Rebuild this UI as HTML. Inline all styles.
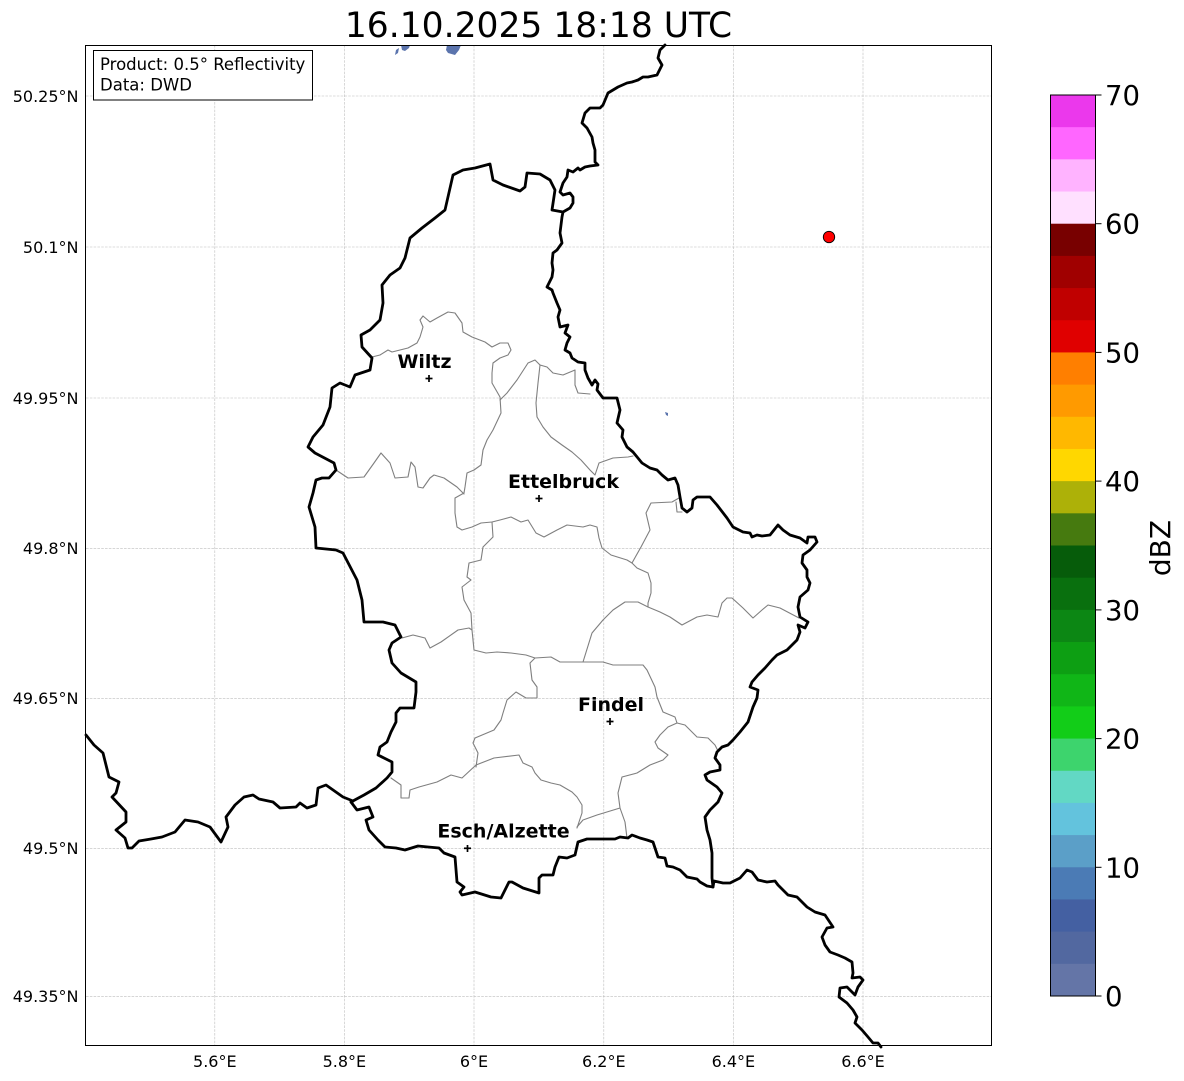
<!DOCTYPE html>
<html>
<head>
<meta charset="utf-8">
<style>
  html,body{margin:0;padding:0;background:#fff;}
  svg{display:block;}
  text{font-family:"DejaVu Sans","Liberation Sans",sans-serif;}
</style>
</head>
<body>
<svg width="1184" height="1081" viewBox="0 0 1184 1081" xmlns="http://www.w3.org/2000/svg">
  <rect x="0" y="0" width="1184" height="1081" fill="#fff"/>

  <!-- Title -->
  <text x="538.5" y="37" font-size="34.5" text-anchor="middle" fill="#000">16.10.2025 18:18 UTC</text>

  <!-- Gridlines -->
  <g stroke="#bdbdbd" stroke-width="0.6" stroke-dasharray="2.6,1.2" fill="none">
    <line x1="214.8" y1="45" x2="214.8" y2="1045"/>
    <line x1="344.4" y1="45" x2="344.4" y2="1045"/>
    <line x1="474" y1="45" x2="474" y2="1045"/>
    <line x1="603.8" y1="45" x2="603.8" y2="1045"/>
    <line x1="733.4" y1="45" x2="733.4" y2="1045"/>
    <line x1="863" y1="45" x2="863" y2="1045"/>
    <line x1="86" y1="96" x2="992" y2="96"/>
    <line x1="86" y1="247" x2="992" y2="247"/>
    <line x1="86" y1="398" x2="992" y2="398"/>
    <line x1="86" y1="548.3" x2="992" y2="548.3"/>
    <line x1="86" y1="698.3" x2="992" y2="698.3"/>
    <line x1="86" y1="848.3" x2="992" y2="848.3"/>
    <line x1="86" y1="996.3" x2="992" y2="996.3"/>
  </g>

  <!-- Radar echoes -->
  <g fill="#5b74ad">
    <polygon points="395,55 396,50 399,48 398,53"/>
    <polygon points="401,45 410,45 409,48 405,51 402,50"/>
    <polygon points="447,45 461,45 459,50 455,55 448,53 446,50"/>
    <polygon points="665,412 668,413 668,416 666,415"/>
  </g>

  <!-- District borders -->
  <g stroke="#7f7f7f" stroke-width="1.1" fill="none" stroke-linejoin="round" stroke-linecap="round">
    <polyline points="372,357 380,355 388,350 392,352 400,350 408,348 417,343 420,337 423,327 420,320 423,316 430,322 437,318 448,312 455,313 462,323 463,332 472,337 485,342 492,347 500,343 508,343 511,350 508,355 500,358 493,363 492,373 492,383 500,397 501,413 493,430 487,440 483,450 481,465 474,470 467,473 465,487 464,493 455,498 455,513 457,527 462,530 472,527 481,523 492,522 500,520 511,517 521,522 528,520 536,533 544,537 557,530 567,525 583,527 590,525 597,527 599,538 602,548 611,555 627,560 632,563 637,568 648,573 651,583 651,593 648,603 648,607"/>
    <polyline points="336,470 348,478 364,477 374,463 381,453 390,463 395,478 408,477 411,462 415,467 418,487 423,488 430,478 434,475 444,478 457,487 464,494"/>
    <polyline points="500,400 507,393 517,380 528,363 535,360 540,365 538,383 536,403 537,417 543,427 551,437 562,445 572,452 581,460 590,470 595,475 599,463 613,458 628,457 633,456"/>
    <polyline points="540,365 547,367 553,373 563,375 575,370 575,385 578,393 590,394"/>
    <polyline points="632,563 641,547 650,530 646,513 651,503 672,502 679,498"/>
    <polyline points="676,502 677,512 682,512"/>
    <polyline points="492,522 493,537 483,547 481,560 469,563 467,577 471,580 462,587 464,600 471,613 472,630 474,650 486,653 497,652 511,653 526,655 535,658 551,657 560,662 583,662 592,633 603,620 613,610 625,602 638,602 648,607 660,612 670,617 682,625 697,617 707,615 718,617 722,603 727,598 732,598 743,608 753,618 762,610 768,605 780,608 799,618"/>
    <polyline points="402,638 413,635 425,638 430,648 441,642 458,630 469,628 472,630"/>
    <polyline points="583,662 588,662 603,662 613,665 643,665 647,670 655,687 657,697 663,712 675,717 677,723 685,725 697,737 708,738 715,745 718,751"/>
    <polyline points="677,723 668,727 660,735 655,742 658,748 668,755 663,760 650,765 637,773 622,777 618,793 620,808 625,822 627,838"/>
    <polyline points="620,808 597,815 583,820 577,827"/>
    <polyline points="535,658 530,663 532,680 537,687 537,698 526,698 516,692 507,700 503,713 501,720 494,730 475,738 473,743 478,753 476,767"/>
    <polyline points="391,778 401,785 401,798 409,798 410,790 419,787 437,782 451,775 462,778 476,765 494,758 519,755 523,763 532,767 535,773 541,780 551,783 560,785 572,792 577,797 582,805 582,813 577,828"/>
  </g>

  <!-- National borders -->
  <g stroke="#000" stroke-width="2.8" fill="none" stroke-linejoin="round" stroke-linecap="round">
    <polyline points="665,45 660,50 658,58 662,65 657,75 648,77 643,77 638,80 632,82 627,83 618,87 613,90 608,93 603,105 600,108 590,108 585,113 582,123 587,128 592,137 593,143 595,150 595,162 598,165 590,166 585,167 580,170 578,168 573,172 568,170 567,177 563,183 560,192 563,195 570,193 573,197 573,203 570,208 563,212 562,217 560,233 562,243 557,250 553,253 552,263 553,270 552,277 547,287 552,290 553,293 557,303 560,310 558,317 560,327 568,325 565,333 570,337 567,343 565,350 570,353 572,358 578,362 585,363 585,370 588,378 592,385 595,380 598,384 597,390 603,398 617,398 620,410 617,423 623,430 622,437 627,447 633,452 642,463 650,468 657,470 662,475 668,480 675,478 678,485 680,497 682,508 687,512 692,508 693,500 697,497 710,497 717,505 727,518 733,527 743,532 750,533 752,537 757,535 762,536 770,535 778,525 783,530 790,535 800,538 807,543 808,537 815,537 817,542 810,550 803,555 802,563 807,570 807,577 810,583 808,590 800,597 798,607 800,617 808,622 805,628 798,625 800,632 797,640 787,650 777,655 772,660 765,668 758,675 752,682 750,687 758,690 757,698 753,707 748,722 740,732 733,740 728,745 722,747 717,752 715,758 720,765 720,770 710,772 705,775 707,780 717,787 722,793 718,802 710,810 705,817 707,830 710,840 712,853 712,878 713,887 714,881 723,883 730,883 740,878 747,870 752,872 758,880 767,882 775,881 778,885 788,895 797,897 807,907 815,912 825,915 833,927 827,928 822,937 825,945 830,952 838,955 845,958 852,962 853,973 852,978 860,977 863,980 858,987 855,995 847,987 840,988 839,997 847,1003 853,1010 857,1017 855,1023 862,1030 868,1037 873,1043 878,1043 881,1047"/>
    <polyline points="563,212 552,210 555,190 550,180 540,174 527,173 525,187 520,191 503,185 493,180 490,164 475,168 463,170 453,175 445,210 435,218 422,228 410,238 405,258 400,268 390,275 382,285 383,303 380,320 370,330 361,335 362,347 372,358 370,370 355,375 350,387 340,383 332,388 330,407 323,425 313,437 308,447 315,453 334,463 336,470 329,478 322,478 316,480 313,493 309,507 315,527 316,548 336,550 343,553 357,580 362,600 364,622 383,622 395,625 401,637 392,643 389,650 392,663 401,673 416,682 416,692 414,708 400,708 396,713 396,722 391,732 387,742 380,747 378,755 384,758 392,762 392,772 387,778 376,788 364,795 351,802"/>
    <polyline points="351,802 357,810 369,807 373,817 366,820 369,830 378,840 385,847 396,848 405,850 418,846 428,847 439,848 444,853 455,857 457,882 464,887 460,892 462,895 475,892 491,897 501,898 509,882 512,882 523,888 539,893 539,878 542,875 553,875 555,867 559,857 567,858 575,855 578,842 587,839 615,839 620,837 628,838 632,835 640,838 647,840 653,842 655,848 658,857 665,858 667,866 673,867 680,870 687,877 692,878 697,879 700,882 707,886 713,887"/>
    <polyline points="86,735 94,745 103,753 109,777 119,782 116,793 112,797 126,812 126,822 116,830 125,838 128,848 132,848 139,841 151,839 162,837 175,832 185,820 198,822 210,827 221,842 228,827 226,817 235,805 244,797 253,795 259,799 273,802 280,808 296,807 300,803 307,808 316,805 318,788 326,785 343,797 353,801"/>
  </g>

  <!-- Cities -->
  <g stroke="#000" stroke-width="1.7">
    <line x1="425.5" y1="378.5" x2="432.5" y2="378.5"/><line x1="429" y1="375" x2="429" y2="382"/>
    <line x1="535.5" y1="498.5" x2="542.5" y2="498.5"/><line x1="539" y1="495" x2="539" y2="502"/>
    <line x1="606.5" y1="721.5" x2="613.5" y2="721.5"/><line x1="610" y1="718" x2="610" y2="725"/>
    <line x1="464" y1="848.3" x2="471" y2="848.3"/><line x1="467.5" y1="845" x2="467.5" y2="852"/>
  </g>
  <g font-size="19" font-weight="bold" text-anchor="middle" fill="#000">
    <text x="424.5" y="368">Wiltz</text>
    <text x="563.5" y="488">Ettelbruck</text>
    <text x="611" y="711">Findel</text>
    <text x="503.5" y="837.5">Esch/Alzette</text>
  </g>

  <!-- Radar site -->
  <circle cx="829" cy="237" r="5.7" fill="#ff0000" stroke="#000" stroke-width="0.9"/>

  <!-- Axes frame -->
  <rect x="85.5" y="45.5" width="906" height="1000" fill="none" stroke="#000" stroke-width="1"/>

  <!-- Info box -->
  <rect x="93.5" y="50.5" width="219" height="49.5" fill="#fff" stroke="#000" stroke-width="1"/>
  <text x="100" y="70" font-size="16.5" fill="#000">Product: 0.5° Reflectivity</text>
  <text x="100" y="90.7" font-size="16.5" fill="#000">Data: DWD</text>

  <!-- Lat labels -->
  <g font-size="16" text-anchor="end" fill="#000">
    <text x="78.5" y="101.8">50.25°N</text>
    <text x="78.5" y="252.8">50.1°N</text>
    <text x="78.5" y="403.8">49.95°N</text>
    <text x="78.5" y="554.1">49.8°N</text>
    <text x="78.5" y="704.1">49.65°N</text>
    <text x="78.5" y="854.1">49.5°N</text>
    <text x="78.5" y="1002.1">49.35°N</text>
  </g>
  <!-- Lon labels -->
  <g font-size="16" text-anchor="middle" fill="#000">
    <text x="214.8" y="1067">5.6°E</text>
    <text x="344.4" y="1067">5.8°E</text>
    <text x="474" y="1067">6°E</text>
    <text x="603.8" y="1067">6.2°E</text>
    <text x="733.4" y="1067">6.4°E</text>
    <text x="863" y="1067">6.6°E</text>
  </g>

  <!-- Colorbar -->
  <g stroke="none">
    <rect x="1050.5" y="95" width="45" height="32.6" fill="#eb38ec"/>
    <rect x="1050.5" y="127.18" width="45" height="32.6" fill="#ff66ff"/>
    <rect x="1050.5" y="159.36" width="45" height="32.6" fill="#ffb3ff"/>
    <rect x="1050.5" y="191.54" width="45" height="32.6" fill="#ffe0ff"/>
    <rect x="1050.5" y="223.71" width="45" height="32.6" fill="#780000"/>
    <rect x="1050.5" y="255.89" width="45" height="32.6" fill="#a00000"/>
    <rect x="1050.5" y="288.07" width="45" height="32.6" fill="#c00000"/>
    <rect x="1050.5" y="320.25" width="45" height="32.6" fill="#e00000"/>
    <rect x="1050.5" y="352.43" width="45" height="32.6" fill="#ff7f00"/>
    <rect x="1050.5" y="384.61" width="45" height="32.6" fill="#ff9a00"/>
    <rect x="1050.5" y="416.79" width="45" height="32.6" fill="#ffb800"/>
    <rect x="1050.5" y="448.96" width="45" height="32.6" fill="#ffd700"/>
    <rect x="1050.5" y="481.14" width="45" height="32.6" fill="#adb108"/>
    <rect x="1050.5" y="513.32" width="45" height="32.6" fill="#467a0f"/>
    <rect x="1050.5" y="545.5" width="45" height="32.6" fill="#065c0a"/>
    <rect x="1050.5" y="577.68" width="45" height="32.6" fill="#09700e"/>
    <rect x="1050.5" y="609.86" width="45" height="32.6" fill="#0c8714"/>
    <rect x="1050.5" y="642.04" width="45" height="32.6" fill="#0d9f13"/>
    <rect x="1050.5" y="674.21" width="45" height="32.6" fill="#10b617"/>
    <rect x="1050.5" y="706.39" width="45" height="32.6" fill="#12cd18"/>
    <rect x="1050.5" y="738.57" width="45" height="32.6" fill="#3dd46d"/>
    <rect x="1050.5" y="770.75" width="45" height="32.6" fill="#62d8c4"/>
    <rect x="1050.5" y="802.93" width="45" height="32.6" fill="#63c3dd"/>
    <rect x="1050.5" y="835.11" width="45" height="32.6" fill="#5b9fc8"/>
    <rect x="1050.5" y="867.29" width="45" height="32.6" fill="#4b7bb5"/>
    <rect x="1050.5" y="899.46" width="45" height="32.6" fill="#4460a2"/>
    <rect x="1050.5" y="931.64" width="45" height="32.6" fill="#5268a0"/>
    <rect x="1050.5" y="963.82" width="45" height="32.18" fill="#6475a7"/>
  </g>
  <rect x="1050.5" y="95" width="45" height="901" fill="none" stroke="#000" stroke-width="1"/>
  <g stroke="#000" stroke-width="1">
    <line x1="1095.5" y1="996" x2="1101.5" y2="996"/>
    <line x1="1095.5" y1="867.3" x2="1101.5" y2="867.3"/>
    <line x1="1095.5" y1="738.6" x2="1101.5" y2="738.6"/>
    <line x1="1095.5" y1="609.9" x2="1101.5" y2="609.9"/>
    <line x1="1095.5" y1="481.1" x2="1101.5" y2="481.1"/>
    <line x1="1095.5" y1="352.4" x2="1101.5" y2="352.4"/>
    <line x1="1095.5" y1="223.7" x2="1101.5" y2="223.7"/>
    <line x1="1095.5" y1="95" x2="1101.5" y2="95"/>
  </g>
  <g font-size="27.5" fill="#000">
    <text x="1105" y="1006">0</text>
    <text x="1105" y="877.3">10</text>
    <text x="1105" y="748.6">20</text>
    <text x="1105" y="619.9">30</text>
    <text x="1105" y="491.1">40</text>
    <text x="1105" y="362.4">50</text>
    <text x="1105" y="233.7">60</text>
    <text x="1105" y="105">70</text>
  </g>
  <text x="1170" y="548" font-size="28" text-anchor="middle" fill="#000" transform="rotate(-90 1170 548)">dBZ</text>
</svg>
</body>
</html>
